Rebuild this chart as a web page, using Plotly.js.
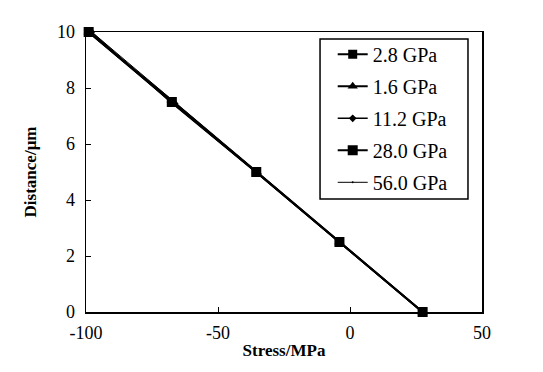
<!DOCTYPE html>
<html>
<head>
<meta charset="utf-8">
<script src="https://cdn.plot.ly/plotly-3.0.1.min.js"></script>
<style>html,body{margin:0;padding:0;background:#fff;}#chart{width:543px;height:372px;}</style>
</head>
<body>
<div id="chart"></div>
<script>
// Data
var seriesNames = ["2.8 GPa", "1.6 GPa", "11.2 GPa", "28.0 GPa", "56.0 GPa"];
var distance = [10, 7.5, 5, 2.5, 0];
var stress_2_8 = [-99, -67.5, -35.5, -4, 27.5];
var stress_1_6 = [-99, -66.8, -35.3, -4, 27.5];
var stress_11_2 = [-98, -68, -35.8, -4, 27.5];
var stress_28_0 = [-99, -67.5, -35.5, -4, 27.5];
var stress_56_0 = [-97.8, -66.5, -35, -3.8, 27.5];
var xTickVals = [-100, -50, 0, 50];
var xTickText = ["-100", "-50", "0", "50"];
var yTickVals = [0, 2, 4, 6, 8, 10];

var xs = [stress_2_8, stress_1_6, stress_11_2, stress_28_0, stress_56_0];
var symbols = ["square", "triangle-up", "diamond", "square", "circle"];
var sizes = [9, 9, 6, 10, 2];
var widths = [2, 2, 1.5, 2, 1];

var traces = seriesNames.map(function(n, i){
  return {
    x: xs[i], y: distance, name: n, type: "scatter", mode: "lines+markers",
    legendgroup: "g" + i, cliponaxis: false,
    line: {color: "#000", width: widths[i]},
    marker: {symbol: symbols[i], size: sizes[i], color: "#000"}
  };
});

var fam = "Liberation Serif, Times New Roman, serif";
var layout = {
  width: 543, height: 372,
  margin: {l: 86, r: 61, t: 32, b: 60},
  paper_bgcolor: "#fff", plot_bgcolor: "#fff",
  showlegend: true,
  legend: {
    x: 0.623, y: 0.99, xanchor: "left", yanchor: "top",
    borderwidth: 0, bgcolor: "rgba(0,0,0,0)",
    font: {family: fam, size: 20, color: "#000"},
    traceorder: "grouped", tracegroupgap: 3
  },
  shapes: [{
    type: "rect", xref: "paper", yref: "paper",
    x0: 0.591, x1: 0.9646, y0: 0.4036, y1: 0.975,
    line: {color: "#000", width: 1.5}, fillcolor: "rgba(0,0,0,0)", layer: "above"
  }],
  xaxis: {
    range: [-100, 50], tickvals: xTickVals, ticktext: xTickText,
    ticks: "inside", ticklen: 5, tickcolor: "#000", ticklabelstandoff: 4,
    showline: true, linecolor: "#000", linewidth: 1.5, mirror: true,
    showgrid: false, zeroline: false,
    tickfont: {family: fam, size: 18, color: "#000"},
    title: {text: "<b>Stress/MPa</b>", font: {family: fam, size: 17, color: "#000"}, standoff: 2}
  },
  yaxis: {
    range: [0, 10], tickvals: yTickVals,
    ticks: "inside", ticklen: 5, tickcolor: "#000", ticklabelstandoff: 6,
    showline: true, linecolor: "#000", linewidth: 1.5, mirror: true,
    showgrid: false, zeroline: false,
    tickfont: {family: fam, size: 18, color: "#000"},
    title: {text: "<b>Distance/μm</b>", font: {family: fam, size: 17, color: "#000"}, standoff: 16}
  }
};
Plotly.newPlot("chart", traces, layout, {displayModeBar: false, staticPlot: true});
</script>
</body>
</html>
